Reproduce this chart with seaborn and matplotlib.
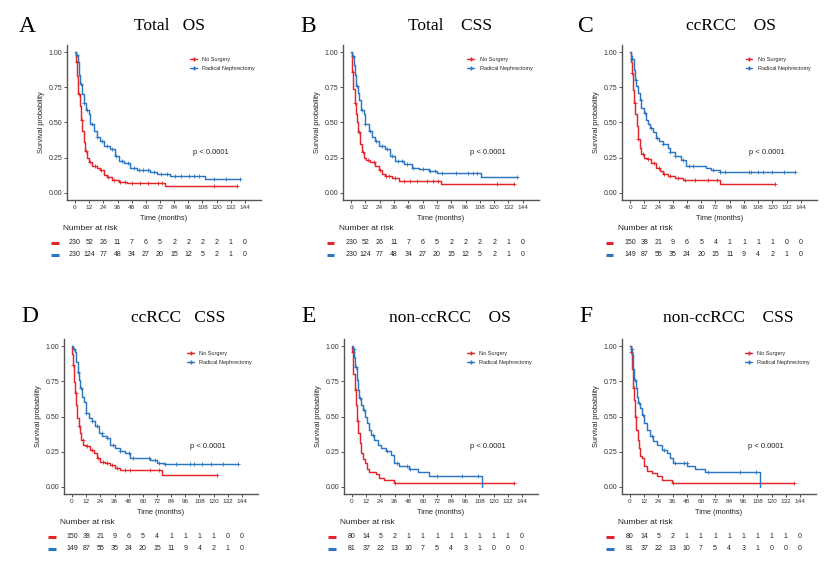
import numpy as np
import pandas as pd
import matplotlib
matplotlib.use("Agg")
import matplotlib.pyplot as plt
import seaborn as sns
from matplotlib.lines import Line2D
from matplotlib.transforms import blended_transform_factory

# ---------------- data ----------------
TIME_TICKS = [0, 12, 24, 36, 48, 60, 72, 84, 96, 108, 120, 132, 144]
GROUPS = ["No Surgery", "Radical Nephrectomy"]
PANEL_LETTERS = ["A", "B", "C", "D", "E", "F"]
PANEL_TITLES = ["Total   OS", "Total    CSS", "ccRCC    OS",
                "ccRCC   CSS", "non-ccRCC    OS", "non-ccRCC    CSS"]
P_TEXT = "p < 0.0001"

# Panel A  (Total OS)
A_NS_T = [0, 0.6, 1.7, 2.8, 3.9, 5.1, 6.2, 7.3, 8.7, 10.1, 11.5, 14.4, 18.6, 21.4, 24.2, 27.0, 31.3, 36.9, 43.9, 76.3, 137.5]
A_NS_S = [1.0, 0.93, 0.83, 0.70, 0.62, 0.52, 0.44, 0.36, 0.30, 0.25, 0.22, 0.19, 0.18, 0.16, 0.13, 0.11, 0.094, 0.08, 0.073, 0.052, 0.052]
A_RN_T = [0, 1.1, 2.3, 3.4, 4.5, 5.9, 7.3, 9.6, 11.5, 13.0, 15.8, 18.6, 21.4, 24.2, 29.9, 34.1, 36.9, 41.1, 46.8, 52.4, 63.7, 69.3, 80.6, 110.0, 139.7]
A_RN_S = [1.0, 0.98, 0.93, 0.84, 0.77, 0.70, 0.64, 0.59, 0.56, 0.49, 0.44, 0.40, 0.37, 0.33, 0.31, 0.26, 0.23, 0.21, 0.18, 0.165, 0.146, 0.134, 0.122, 0.099, 0.099]
A_NS_C = [1.5, 3, 6, 9, 13, 17, 22, 28, 33, 38, 42, 48, 55, 62, 70, 74, 118, 137.5]
A_RN_C = [2, 5, 8, 10, 14, 19, 23, 27, 31, 35, 40, 45, 50, 54, 58, 62, 67, 73, 78, 85, 90, 97, 101, 105, 118, 128, 139.7]

# Panel B  (Total CSS)
B_NS_T = [0, 0.6, 1.1, 2.0, 3.1, 3.9, 5.1, 6.2, 7.6, 9.0, 10.4, 12.4, 16.0, 20.2, 23.0, 25.9, 28.7, 34.3, 39.9, 75.1, 137.0]
B_NS_S = [1.0, 0.96, 0.86, 0.74, 0.64, 0.56, 0.50, 0.43, 0.35, 0.29, 0.25, 0.235, 0.22, 0.19, 0.16, 0.134, 0.12, 0.106, 0.087, 0.067, 0.067]
B_RN_T = [0, 1.1, 2.2, 3.4, 4.5, 5.6, 7.0, 8.4, 10.4, 11.8, 14.6, 17.4, 20.2, 23.1, 28.7, 32.9, 37.1, 44.2, 51.2, 56.8, 65.2, 72.3, 108.8, 139.2]
B_RN_S = [1.0, 0.97, 0.91, 0.84, 0.76, 0.71, 0.66, 0.59, 0.56, 0.49, 0.44, 0.40, 0.37, 0.33, 0.31, 0.26, 0.23, 0.205, 0.18, 0.17, 0.158, 0.14, 0.11, 0.11]
B_NS_C = [1.5, 3.5, 6.5, 10, 14, 19, 24, 29, 32, 37, 44, 49, 55, 64, 69, 73, 122, 137.0]
B_RN_C = [2, 5, 9, 12, 16, 21, 26, 30, 34, 39, 43, 47, 52, 60, 66, 70, 76, 88, 98, 102, 106, 139.2]

# Panel C  (ccRCC OS)
C_NS_T = [0, 0.6, 1.4, 2.2, 3.4, 4.5, 5.6, 7.0, 8.1, 9.5, 11.5, 14.3, 18.0, 22.2, 25.0, 27.8, 32.0, 37.6, 44.6, 75.5, 121.8]
C_NS_S = [1.0, 0.93, 0.85, 0.73, 0.64, 0.56, 0.475, 0.38, 0.32, 0.275, 0.25, 0.24, 0.215, 0.18, 0.157, 0.134, 0.12, 0.105, 0.094, 0.064, 0.064]
C_RN_T = [0, 0.8, 2.0, 3.1, 4.2, 5.3, 6.7, 8.1, 9.5, 11.5, 13.2, 15.2, 17.1, 19.4, 22.2, 24.4, 27.8, 32.0, 33.4, 37.6, 43.2, 47.4, 64.3, 68.5, 75.5, 138.7]
C_RN_S = [1.0, 0.97, 0.95, 0.875, 0.80, 0.76, 0.71, 0.66, 0.60, 0.57, 0.52, 0.49, 0.46, 0.43, 0.39, 0.37, 0.35, 0.32, 0.29, 0.26, 0.235, 0.19, 0.18, 0.165, 0.146, 0.146]
C_NS_C = [1.5, 4, 7, 11, 15, 20, 24, 29, 34, 40, 46, 55, 66, 73, 121.8]
C_RN_C = [2, 5, 9, 13, 18, 23, 28, 34, 38, 45, 50, 53, 70, 76, 80, 100, 102, 108, 112, 120, 130, 138.7]

# Panel D  (ccRCC CSS)
D_NS_T = [0, 0.3, 0.9, 1.7, 2.5, 3.4, 4.5, 5.6, 6.8, 7.9, 9.3, 11.9, 15.5, 18.4, 21.2, 24.0, 28.2, 32.5, 36.7, 40.9, 76.2, 122.8]
D_NS_S = [1.0, 0.946, 0.864, 0.746, 0.664, 0.58, 0.488, 0.43, 0.38, 0.336, 0.30, 0.289, 0.265, 0.24, 0.207, 0.18, 0.167, 0.155, 0.136, 0.12, 0.082, 0.082]
D_RN_T = [0, 1.1, 2.5, 3.7, 4.8, 5.9, 7.1, 8.5, 9.9, 11.9, 14.1, 16.9, 19.8, 22.6, 25.4, 29.6, 32.5, 36.7, 40.9, 45.2, 49.4, 66.3, 72.0, 77.6, 140.6]
D_RN_S = [1.0, 0.98, 0.958, 0.887, 0.817, 0.758, 0.70, 0.64, 0.605, 0.523, 0.488, 0.465, 0.43, 0.38, 0.36, 0.35, 0.30, 0.277, 0.253, 0.242, 0.207, 0.188, 0.171, 0.16, 0.16]
D_NS_C = [1, 3, 6, 9, 13, 17, 22, 26, 30, 34, 38, 45, 49, 66, 74, 122.8]
D_RN_C = [2, 5, 8, 12, 17, 21, 25, 30, 35, 41, 48, 52, 65, 70, 74, 79, 88, 100, 103, 110, 118, 128, 140.6]

# Panel E  (non-ccRCC OS)
E_NS_T = [0, 0.3, 1.1, 2.3, 3.1, 4.2, 5.4, 6.5, 7.6, 9.0, 11.0, 12.4, 14.7, 20.3, 23.2, 27.4, 35.9, 137.5]
E_NS_S = [1.0, 0.958, 0.805, 0.69, 0.58, 0.465, 0.383, 0.312, 0.242, 0.195, 0.171, 0.124, 0.106, 0.089, 0.066, 0.047, 0.028, 0.028]
E_RN_T = [0, 0.6, 1.7, 2.8, 4.0, 5.1, 6.2, 7.9, 9.6, 11.3, 12.7, 14.1, 16.1, 18.9, 21.7, 24.6, 28.8, 33.0, 35.9, 40.1, 48.6, 55.6, 65.5, 110.1]
E_RN_S = [1.0, 0.98, 0.92, 0.85, 0.758, 0.69, 0.63, 0.58, 0.547, 0.50, 0.453, 0.406, 0.37, 0.336, 0.30, 0.277, 0.253, 0.23, 0.171, 0.148, 0.124, 0.106, 0.077, 0.0]
E_NS_C = [1, 3, 5, 36.5, 137.5]
E_RN_C = [1.5, 3.5, 7, 10, 18, 30, 38, 47, 49, 72, 93, 107]

# Panel F  (non-ccRCC CSS)
F_NS_T = [0, 0.6, 1.4, 2.3, 3.1, 4.2, 5.4, 6.5, 7.6, 8.8, 10.5, 12.2, 14.1, 18.4, 22.6, 26.9, 35.4, 138.6]
F_NS_S = [1.0, 0.958, 0.84, 0.70, 0.617, 0.50, 0.406, 0.336, 0.277, 0.218, 0.207, 0.148, 0.113, 0.10, 0.077, 0.05, 0.028, 0.028]
F_RN_T = [0, 0.9, 2.0, 2.8, 3.7, 4.8, 5.9, 7.1, 8.8, 10.5, 12.2, 14.1, 17.0, 19.8, 22.6, 26.9, 31.1, 33.9, 36.8, 48.1, 55.2, 63.6, 110.3]
F_RN_S = [1.0, 0.98, 0.946, 0.84, 0.758, 0.70, 0.64, 0.594, 0.56, 0.51, 0.453, 0.406, 0.36, 0.324, 0.30, 0.265, 0.242, 0.207, 0.167, 0.148, 0.124, 0.106, 0.0]
F_NS_C = [1, 3, 5, 36, 138.6]
F_RN_C = [1.5, 4, 8, 11, 19, 29, 38, 46, 48, 66, 93, 107]

# Number at risk
RISK_TOTAL_NS = [230, 52, 26, 11, 7, 6, 5, 2, 2, 2, 2, 1, 0]
RISK_TOTAL_RN = [230, 124, 77, 48, 34, 27, 20, 15, 12, 5, 2, 1, 0]
RISK_CC_NS = [150, 38, 21, 9, 6, 5, 4, 1, 1, 1, 1, 0, 0]
RISK_CC_RN = [149, 87, 55, 35, 24, 20, 15, 11, 9, 4, 2, 1, 0]
RISK_NCC_NS = [80, 14, 5, 2, 1, 1, 1, 1, 1, 1, 1, 1, 0]
RISK_NCC_RN = [81, 37, 22, 13, 10, 7, 5, 4, 3, 1, 0, 0, 0]

# ---------------- style ----------------
RED = "#E3262B"
BLUE = "#2B76C0"
W, H = 839, 567

sns.set_theme(style="white")
plt.rcParams["font.family"] = ["Liberation Sans", "DejaVu Sans"]

fig = plt.figure(figsize=(W / 100, H / 100), dpi=100)

panels = [
    (A_NS_T, A_NS_S, A_RN_T, A_RN_S, A_NS_C, A_RN_C, RISK_TOTAL_NS, RISK_TOTAL_RN),
    (B_NS_T, B_NS_S, B_RN_T, B_RN_S, B_NS_C, B_RN_C, RISK_TOTAL_NS, RISK_TOTAL_RN),
    (C_NS_T, C_NS_S, C_RN_T, C_RN_S, C_NS_C, C_RN_C, RISK_CC_NS, RISK_CC_RN),
    (D_NS_T, D_NS_S, D_RN_T, D_RN_S, D_NS_C, D_RN_C, RISK_CC_NS, RISK_CC_RN),
    (E_NS_T, E_NS_S, E_RN_T, E_RN_S, E_NS_C, E_RN_C, RISK_NCC_NS, RISK_NCC_RN),
    (F_NS_T, F_NS_S, F_RN_T, F_RN_S, F_NS_C, F_RN_C, RISK_NCC_NS, RISK_NCC_RN),
]

# layout in pixels: (axes left, axes right, axes top, axes bottom, letter x, letter y, title x, title y)
layout = [
    (67, 261, 45, 200, 27, 27, 169, 26),
    (343, 539, 45, 200, 308, 27, 450, 26),
    (622, 817, 45, 200, 586, 27, 731, 26),
    (64, 258, 339, 494, 30, 317, 178, 318),
    (344, 538, 339, 494, 309, 317, 450, 318),
    (622, 816, 339, 494, 586, 317, 728, 318),
]


def surv_at(times, surv, t):
    idx = np.searchsorted(np.asarray(times), t, side="right") - 1
    idx = np.clip(idx, 0, len(surv) - 1)
    return np.asarray(surv)[idx]


for i, (pan, lay) in enumerate(zip(panels, layout)):
    ns_t, ns_s, rn_t, rn_s, ns_c, rn_c, risk_ns, risk_rn = pan
    l, r, t, b, lx, ly, tx, ty = lay
    ax = fig.add_axes([l / W, 1 - b / H, (r - l) / W, (b - t) / H])

    for times, surv, cens, col, name in [(ns_t, ns_s, ns_c, RED, GROUPS[0]),
                                         (rn_t, rn_s, rn_c, BLUE, GROUPS[1])]:
        df = pd.DataFrame({"time": times, "surv": surv})
        sns.lineplot(data=df, x="time", y="surv", ax=ax, color=col,
                     drawstyle="steps-post", estimator=None, sort=False,
                     linewidth=1.05, legend=False)
        cdf = pd.DataFrame({"time": cens, "surv": surv_at(times, surv, cens)})
        sns.scatterplot(data=cdf, x="time", y="surv", ax=ax, color=col,
                        marker="+", s=9, linewidth=0.6, legend=False, zorder=3)

    ax.set_xlim(-6.8, 157.6)
    ax.set_ylim(-0.05, 1.05)
    ax.set_xticks(TIME_TICKS)
    ax.set_yticks([0, 0.25, 0.5, 0.75, 1.0])
    ax.set_yticklabels(["0.00", "0.25", "0.50", "0.75", "1.00"])
    ax.tick_params(axis="both", length=2, width=0.6,
                   pad=1.5, colors="#333333", direction="out",
                   bottom=True, left=True)
    ax.tick_params(axis="x", labelsize=4.6)
    ax.tick_params(axis="y", labelsize=5.0)
    for sp in ["top", "right"]:
        ax.spines[sp].set_visible(False)
    ax.spines["left"].set_color("#555555")
    ax.spines["bottom"].set_color("#555555")
    ax.spines["left"].set_linewidth(1.0)
    ax.spines["bottom"].set_linewidth(1.0)

    ax.set_xlabel("Time (months)", fontsize=5.3, color="#222222")
    ax.set_ylabel("Survival probability", fontsize=5.3, color="#222222")
    ax.xaxis.set_label_coords(0.5, -15 / 155)
    ax.yaxis.set_label_coords(-22 / 194, 0.5)

    ax.text(100, 0.29, P_TEXT, fontsize=5.5, ha="left", va="center",
            color="#222222")

    handles = [Line2D([0], [0], color=RED, lw=1.0, marker="+", markersize=3),
               Line2D([0], [0], color=BLUE, lw=1.0, marker="+", markersize=3)]
    ax.legend(handles, GROUPS, loc="upper left", bbox_to_anchor=(0.635, 0.925),
              frameon=False, fontsize=4, handlelength=1.2, handletextpad=1.0,
              labelspacing=0.75, borderpad=0, borderaxespad=0)

    fig.text(lx / W, 1 - ly / H, PANEL_LETTERS[i], family="Liberation Serif",
             fontsize=17, ha="center", va="center", color="black")
    fig.text(tx / W, 1 - ty / H, PANEL_TITLES[i], family="Liberation Serif",
             fontsize=12.5, ha="center", va="center", color="black")

    # risk table
    trans = blended_transform_factory(ax.transData, fig.transFigure)
    ax.text(-10, 1 - (b + 28) / H, "Number at risk", transform=trans,
            fontsize=6, ha="left", va="center", color="#222222", clip_on=False)
    for k, (risk, col) in enumerate([(risk_ns, RED), (risk_rn, BLUE)]):
        yy = 1 - (b + 43 + 12 * k) / H
        ax.plot([-20, -14], [yy, yy], transform=trans, color=col, lw=2.2,
                solid_capstyle="butt", clip_on=False)
        for tt, n in zip(TIME_TICKS, risk):
            ax.text(tt, yy, str(n), transform=trans, fontsize=5,
                    ha="center", va="center", color="#222222", clip_on=False)

fig.savefig("out.png", dpi=100)
